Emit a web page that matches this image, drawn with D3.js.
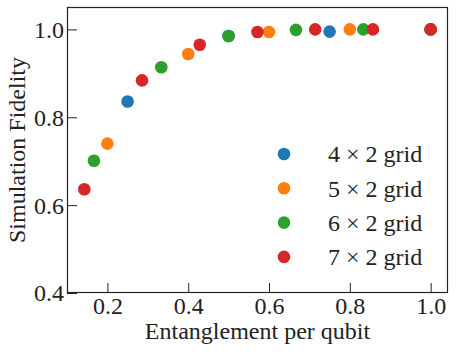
<!DOCTYPE html>
<html>
<head>
<meta charset="utf-8">
<script src="https://cdn.jsdelivr.net/npm/d3@7"></script>
<style>
  body { margin: 0; background: #fff; }
</style>
</head>
<body>
<svg id="chart"></svg>
<script>
// Chart data ************************************************************
const gridNames = ["4 \u00d7 2 grid", "5 \u00d7 2 grid", "6 \u00d7 2 grid", "7 \u00d7 2 grid"];
const gridColors = ["#1f77b4", "#ff7f0e", "#2ca02c", "#d62728"];

// entanglement per qubit (x) and simulation fidelity (y) for each grid
const x4 = [0.25, 0.5, 0.75, 1.0];
const y4 = [0.836, 0.985, 0.995, 1.0];
const x5 = [0.2, 0.4, 0.6, 0.8, 1.0];
const y5 = [0.740, 0.944, 0.994, 1.0, 1.0];
const x6 = [1/6, 2/6, 3/6, 4/6, 5/6, 1.0];
const y6 = [0.701, 0.914, 0.985, 0.999, 1.0, 1.0];
const x7 = [1/7, 2/7, 3/7, 4/7, 5/7, 6/7, 1.0];
const y7 = [0.636, 0.884, 0.965, 0.994, 1.0, 1.0, 1.0];

const xTicks = [0.2, 0.4, 0.6, 0.8, 1.0];
const yTicks = [0.4, 0.6, 0.8, 1.0];

const seriesX = [x4, x5, x6, x7];
const seriesY = [y4, y5, y6, y7];

// Layout ****************************************************************
const width = 457, height = 352;
const margin = { left: 67, right: 9, top: 7, bottom: 59 };
const textStyle = "font-family:Liberation Serif;font-size:24px";

// Helper: put the serif font straight on a text element
function serifText(sel) {
    return sel.attr("font-family", "Liberation Serif")
        .attr("font-size", 24)
        .attr("style", textStyle)
        .attr("fill", "#222");
}

const svg = d3.select("#chart")
    .attr("width", width)
    .attr("height", height)
    .attr("font-family", "Liberation Serif");

const x = d3.scaleLinear().domain([0.1, 1.043]).range([margin.left, width - margin.right]);
const y = d3.scaleLinear().domain([0.4, 1.051]).range([height - margin.bottom, margin.top]);

// Axes with inward ticks
const xAxis = svg.append("g")
    .attr("transform", `translate(0,${height - margin.bottom})`)
    .call(d3.axisBottom(x).tickValues(xTicks).tickFormat(d3.format(".1f")).tickSizeInner(-10).tickSizeOuter(0));

const yAxis = svg.append("g")
    .attr("transform", `translate(${margin.left},0)`)
    .call(d3.axisLeft(y).tickValues(yTicks).tickFormat(d3.format(".1f")).tickSizeInner(-10).tickSizeOuter(0));

[xAxis, yAxis].forEach(g => {
    g.attr("font-family", "Liberation Serif").attr("font-size", 24);
    g.select(".domain").remove();
    g.selectAll(".tick line").attr("stroke", "#222").attr("stroke-width", 1);
    serifText(g.selectAll(".tick text"));
});
xAxis.selectAll(".tick text").attr("y", 21).attr("dy", 0);
yAxis.selectAll(".tick text").attr("x", -3).attr("dy", "0.33em");

// Frame round the plot area
svg.append("rect")
    .attr("x", margin.left + 0.5)
    .attr("y", margin.top + 0.5)
    .attr("width", width - margin.left - margin.right - 1)
    .attr("height", height - margin.top - margin.bottom - 1)
    .attr("fill", "none")
    .attr("stroke", "#222")
    .attr("stroke-width", 1.2);

// Points, drawn series by series so later grids sit on top
seriesX.forEach((xs, i) => {
    svg.append("g").selectAll("circle")
        .data(xs.map((v, j) => ({ x: v, y: seriesY[i][j] })))
        .enter().append("circle")
        .attr("cx", d => x(d.x))
        .attr("cy", d => y(d.y))
        .attr("r", 6.3)
        .attr("fill", gridColors[i]);
});

// Axis labels
serifText(svg.append("text"))
    .attr("x", (margin.left + width - margin.right) / 2)
    .attr("y", 339)
    .attr("text-anchor", "middle")
    .text("Entanglement per qubit");

serifText(svg.append("text"))
    .attr("transform", `translate(25,${(margin.top + height - margin.bottom) / 2}) rotate(-90)`)
    .attr("text-anchor", "middle")
    .text("Simulation Fidelity");

// Legend
const legend = svg.append("g");
gridNames.forEach((name, i) => {
    const ly = 154 + i * 34.3;
    legend.append("circle")
        .attr("cx", 284)
        .attr("cy", ly)
        .attr("r", 6.3)
        .attr("fill", gridColors[i]);
    serifText(legend.append("text"))
        .attr("x", 328)
        .attr("y", ly)
        .attr("dy", "0.35em")
        .text(name);
});
</script>
</body>
</html>
